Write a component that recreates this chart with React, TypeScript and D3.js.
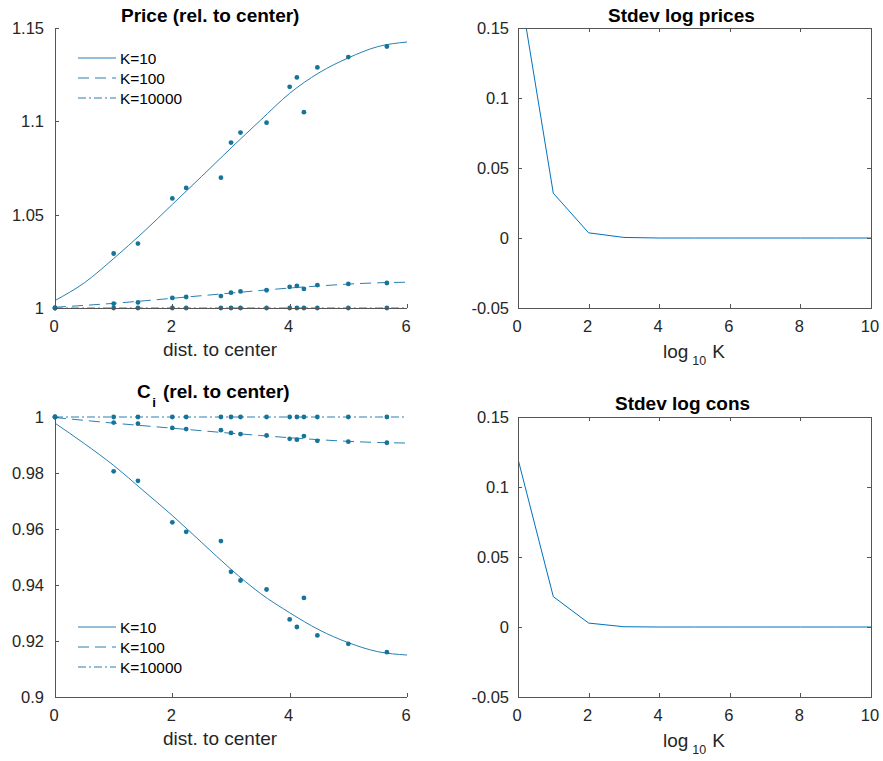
import React from "react";
import * as d3 from "d3";

const distances = [0, 1, 1.414, 2, 2.236, 2.828, 3, 3.162, 3.606, 4, 4.123, 4.243, 4.472, 5, 5.657];
const fitX = [0, 0.5, 1, 1.5, 2, 2.5, 3, 3.5, 4, 4.5, 5, 5.5, 6];

const priceK10 = [1, 1.0292, 1.0345, 1.0587, 1.0643, 1.0698, 1.0886, 1.094, 1.0993, 1.1185, 1.1235, 1.1049, 1.1289, 1.1344, 1.1401];
const priceK100 = [1, 1.0023, 1.003, 1.0054, 1.0059, 1.0064, 1.0082, 1.0089, 1.0095, 1.0113, 1.0118, 1.0102, 1.0123, 1.0129, 1.0134];
const priceK10000 = [1, 1, 1, 1, 1, 1, 1, 1, 1, 1, 1, 1, 1, 1, 1];
const priceFitK10 = [1.004, 1.0135, 1.0265, 1.0405, 1.0555, 1.0705, 1.0857, 1.1005, 1.115, 1.126, 1.134, 1.14, 1.1425];
const priceFitK100 = [1.0004, 1.0014, 1.0025, 1.0038, 1.0052, 1.0066, 1.008, 1.0094, 1.0107, 1.0118, 1.0128, 1.0135, 1.0138];
const priceFitK10000 = [1, 1, 1, 1, 1, 1, 1, 1, 1, 1, 1, 1, 1];

const consK10 = [1, 0.9806, 0.9772, 0.9624, 0.959, 0.9557, 0.9447, 0.9416, 0.9384, 0.9277, 0.925, 0.9354, 0.922, 0.919, 0.916];
const consK100 = [1, 0.998, 0.9976, 0.9961, 0.9957, 0.9953, 0.9943, 0.9939, 0.9934, 0.9922, 0.9919, 0.9932, 0.9915, 0.9912, 0.9908];
const consK10000 = [1, 1, 1, 1, 1, 1, 1, 1, 1, 1, 1, 1, 1, 1, 1];
const consFitK10 = [0.9978, 0.9905, 0.9827, 0.9738, 0.9648, 0.9552, 0.9456, 0.937, 0.9301, 0.924, 0.9194, 0.9162, 0.915];
const consFitK100 = [0.9998, 0.9988, 0.9978, 0.9969, 0.996, 0.9951, 0.9942, 0.9934, 0.9926, 0.9919, 0.9913, 0.9909, 0.9907];
const consFitK10000 = [1, 1, 1, 1, 1, 1, 1, 1, 1, 1, 1, 1, 1];

const legendLabels = ["K=10", "K=100", "K=10000"];

const logK = [0, 1, 2, 3, 4, 5, 6, 7, 8, 9, 10];
const stdevPrices = [0.186, 0.032, 0.0037, 0.0004, 0, 0, 0, 0, 0, 0, 0];
const stdevCons = [0.12, 0.0217, 0.0028, 0.0002, 0, 0, 0, 0, 0, 0, 0];

const leftXTicks = [0, 2, 4, 6];
const priceYTicks = [1, 1.05, 1.1, 1.15];
const consYTicks = [0.9, 0.92, 0.94, 0.96, 0.98, 1];
const rightXTicks = [0, 2, 4, 6, 8, 10];
const rightYTicks = [-0.05, 0, 0.05, 0.1, 0.15];

const FONT = "Liberation Sans, Arial, Helvetica, sans-serif";
const AXIS = "#555";
const TEXT = "#262626";
const LINE = "#2a7fb0";
const DOT = "#16739a";
const RLINE = "#0072BD";
const dashes = [null, "11,6", "8,3,2,3"];
const TICK_FS = 16.5;
const LABEL_FS = 19;
const TITLE_FS = 19;
const LEGEND_FS = 15.4;

function fmt(v: number) {
  return String(+v.toFixed(4));
}

type Box = { x0: number; x1: number; y0: number; y1: number };

function LeftPanel(props: {
  box: Box;
  yDomain: [number, number];
  yTicks: number[];
  dots: number[][];
  fits: number[][];
  legendY: number;
  title: React.ReactNode;
}) {
  const { box, yDomain, yTicks, dots, fits, legendY, title } = props;
  const x = d3.scaleLinear().domain([0, 6]).range([box.x0, box.x1]);
  const y = d3.scaleLinear().domain(yDomain).range([box.y1, box.y0]);
  const line = d3
    .line<number>()
    .x((_, i) => x(fitX[i]))
    .y((d) => y(d))
    .curve(d3.curveMonotoneX);
  return (
    <g>
      {fits.map((f, k) => (
        <path key={"f" + k} d={line(f) || ""} fill="none" stroke={LINE} strokeWidth={1} strokeDasharray={dashes[k] || undefined} />
      ))}
      {dots.map((s, k) =>
        s.map((v, i) => <circle key={"d" + k + "-" + i} cx={x(distances[i])} cy={y(v)} r={2.4} fill={DOT} />)
      )}
      <line x1={box.x0 + 0.5} x2={box.x0 + 0.5} y1={box.y0} y2={box.y1} stroke={AXIS} strokeWidth={1} />
      <line x1={box.x0} x2={box.x1} y1={box.y1 + 0.5} y2={box.y1 + 0.5} stroke={AXIS} strokeWidth={1} />
      {yTicks.map((t) => (
        <g key={"yt" + t}>
          <line x1={box.x0} x2={box.x0 + 4} y1={Math.round(y(t)) + 0.5} y2={Math.round(y(t)) + 0.5} stroke={AXIS} />
          <text x={box.x0 - 11} y={y(t) + 6} textAnchor="end" fontSize={TICK_FS} fill={TEXT} fontFamily={FONT}>
            {fmt(t)}
          </text>
        </g>
      ))}
      {leftXTicks.map((t) => (
        <g key={"xt" + t}>
          <line x1={Math.round(x(t)) + 0.5} x2={Math.round(x(t)) + 0.5} y1={box.y1} y2={box.y1 - 4} stroke={AXIS} />
          <text x={x(t) - 1} y={box.y1 + 24} textAnchor="middle" fontSize={TICK_FS} fill={TEXT} fontFamily={FONT}>
            {fmt(t)}
          </text>
        </g>
      ))}
      <text x={163} y={box.y1 + 48} textAnchor="start" fontSize={LABEL_FS} fill={TEXT} fontFamily={FONT}>
        dist. to center
      </text>
      {title}
      {legendLabels.map((lab, k) => (
        <g key={"lg" + k}>
          <line x1={78} x2={116} y1={legendY + k * 20} y2={legendY + k * 20} stroke={LINE} strokeWidth={1} strokeDasharray={dashes[k] || undefined} />
          <text x={120} y={legendY + k * 20 + 5.5} fontSize={LEGEND_FS} fill="#000" fontFamily={FONT}>
            {lab}
          </text>
        </g>
      ))}
    </g>
  );
}

function RightPanel(props: { box: Box; values: number[]; title: string; titleX: number; titleY: number; id: string }) {
  const { box, values, title, titleX, titleY, id } = props;
  const x = d3.scaleLinear().domain([0, 10]).range([box.x0, box.x1]);
  const y = d3.scaleLinear().domain([-0.05, 0.15]).range([box.y1, box.y0]);
  const line = d3
    .line<number>()
    .x((_, i) => x(logK[i]))
    .y((d) => y(d));
  return (
    <g>
      <defs>
        <clipPath id={id}>
          <rect x={box.x0} y={box.y0} width={box.x1 - box.x0} height={box.y1 - box.y0} />
        </clipPath>
      </defs>
      <path d={line(values) || ""} fill="none" stroke={RLINE} strokeWidth={1} clipPath={`url(#${id})`} />
      <rect x={box.x0 + 0.5} y={box.y0 + 0.5} width={box.x1 - box.x0} height={box.y1 - box.y0} fill="none" stroke={AXIS} strokeWidth={1} />
      {rightYTicks.map((t) => {
        const yy = Math.round(y(t)) + 0.5;
        return (
          <g key={"yt" + t}>
            <line x1={box.x0} x2={box.x0 + 4} y1={yy} y2={yy} stroke={AXIS} />
            <line x1={box.x1} x2={box.x1 - 4} y1={yy} y2={yy} stroke={AXIS} />
            <text x={box.x0 - 9} y={y(t) + 6} textAnchor="end" fontSize={TICK_FS} fill={TEXT} fontFamily={FONT}>
              {fmt(t)}
            </text>
          </g>
        );
      })}
      {rightXTicks.map((t) => {
        const xx = Math.round(x(t)) + 0.5;
        return (
          <g key={"xt" + t}>
            <line x1={xx} x2={xx} y1={box.y1} y2={box.y1 - 4} stroke={AXIS} />
            <line x1={xx} x2={xx} y1={box.y0} y2={box.y0 + 4} stroke={AXIS} />
            <text x={x(t) - 1} y={box.y1 + 24} textAnchor="middle" fontSize={TICK_FS} fill={TEXT} fontFamily={FONT}>
              {fmt(t)}
            </text>
          </g>
        );
      })}
      <text x={663} y={box.y1 + 50} textAnchor="start" fontSize={LABEL_FS} fill={TEXT} fontFamily={FONT}>
        log
        <tspan fontSize={12.5} dx={4} dy={7}>10</tspan>
        <tspan dx={6} dy={-7}>K</tspan>
      </text>
      <text x={titleX} y={titleY} textAnchor="start" fontSize={TITLE_FS} fontWeight="bold" fill="#000" fontFamily={FONT}>
        {title}
      </text>
    </g>
  );
}

export default function App() {
  const tl: Box = { x0: 55, x1: 407, y0: 28, y1: 308 };
  const tr: Box = { x0: 518, x1: 871, y0: 28, y1: 308 };
  const bl: Box = { x0: 55, x1: 407, y0: 417, y1: 697 };
  const br: Box = { x0: 518, x1: 871, y0: 417, y1: 697 };
  return (
    <svg width={883} height={761} style={{ position: "absolute", left: 0, top: 0, background: "#fff" }}>
      <rect width={883} height={761} fill="#fff" />
      <LeftPanel
        box={tl}
        yDomain={[1, 1.15]}
        yTicks={priceYTicks}
        dots={[priceK10, priceK100, priceK10000]}
        fits={[priceFitK10, priceFitK100, priceFitK10000]}
        legendY={58}
        title={
          <text x={121} y={21.5} textAnchor="start" fontSize={TITLE_FS} fontWeight="bold" fill="#000" fontFamily={FONT}>
            Price (rel. to center)
          </text>
        }
      />
      <LeftPanel
        box={bl}
        yDomain={[0.9, 1]}
        yTicks={consYTicks}
        dots={[consK10, consK100, consK10000]}
        fits={[consFitK10, consFitK100, consFitK10000]}
        legendY={627}
        title={
          <text x={137} y={397.5} textAnchor="start" fontSize={TITLE_FS} fontWeight="bold" fill="#000" fontFamily={FONT}>
            C
            <tspan fontSize={13.5} dx={1.5} dy={9}>i</tspan>
            <tspan dx={7} dy={-9}>(rel. to center)</tspan>
          </text>
        }
      />
      <RightPanel box={tr} values={stdevPrices} title="Stdev log prices" titleX={608} titleY={21.5} id="clipTR" />
      <RightPanel box={br} values={stdevCons} title="Stdev log cons" titleX={615} titleY={410} id="clipBR" />
    </svg>
  );
}
